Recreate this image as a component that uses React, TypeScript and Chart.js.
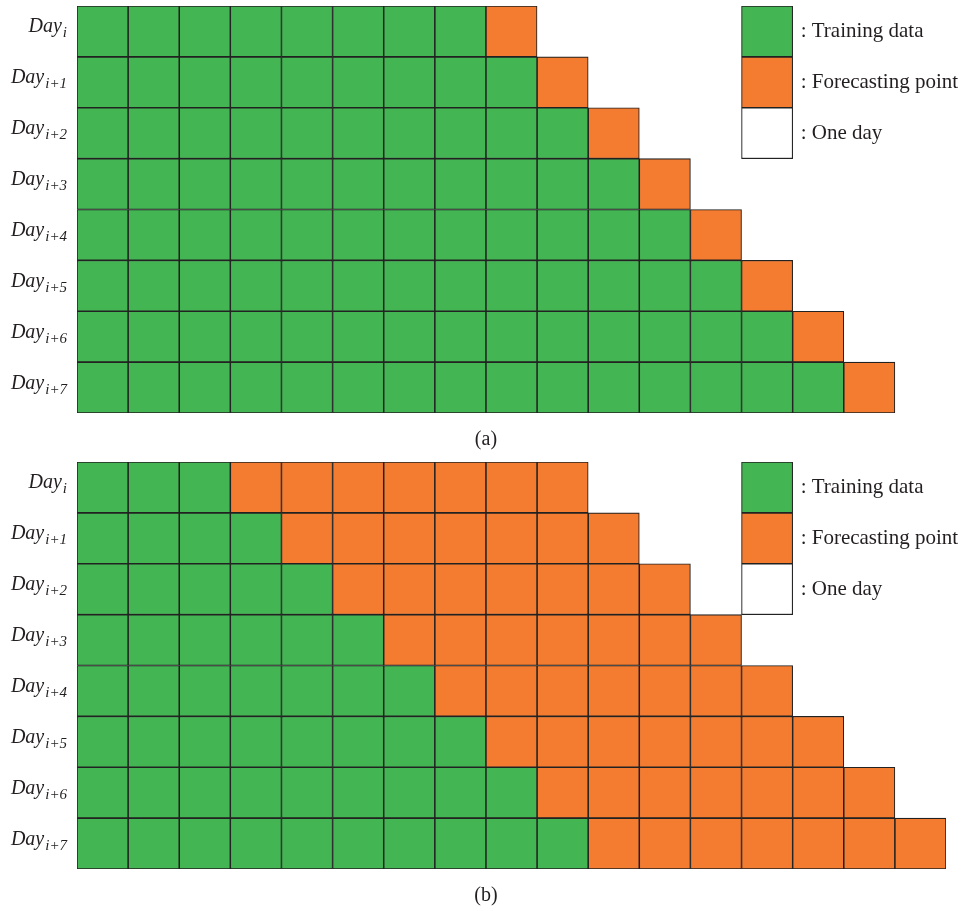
import React, { useEffect, useRef } from 'react';
import { Chart, registerables } from 'chart.js';

Chart.register(...registerables);

// ---- data ----
const rowBase = 'Day';
const rowSubscripts = ['i', 'i+1', 'i+2', 'i+3', 'i+4', 'i+5', 'i+6', 'i+7'];
const trainingDaysA = [8, 9, 10, 11, 12, 13, 14, 15];
const forecastDaysA = [1, 1, 1, 1, 1, 1, 1, 1];
const trainingDaysB = [3, 4, 5, 6, 7, 8, 9, 10];
const forecastDaysB = [7, 7, 7, 7, 7, 7, 7, 7];
const dayColumns = 17;
const legendLabels = [': Training data', ': Forecasting point', ': One day'];
const legendColumn = 13;
const captions = ['(a)', '(b)'];

// ---- styles ----
const GREEN = '#43b653';
const ORANGE = '#f47c31';
const WHITE = '#ffffff';
const BORDER = '#222222';
const TEXT = '#231f20';
const SERIF = '"Liberation Serif", "Times New Roman", serif';

function buildDatasets(train: number[], fc: number[]) {
  const ds: any[] = [];
  for (let k = 0; k < dayColumns; k++) {
    ds.push({
      label: `day ${k + 1}`,
      data: rowSubscripts.map((_, r) => (k < train[r] + fc[r] ? [k, k + 1] : null)),
      backgroundColor: rowSubscripts.map((_, r) => (k < train[r] ? GREEN : ORANGE)),
      borderColor: BORDER,
      borderWidth: 1.1,
      borderSkipped: false,
      grouped: false,
      categoryPercentage: 1,
      barPercentage: 1,
    });
  }
  const legendColors = [GREEN, ORANGE, WHITE];
  ds.push({
    label: 'legend keys',
    data: rowSubscripts.map((_, r) => (r < legendLabels.length ? [legendColumn, legendColumn + 1] : null)),
    backgroundColor: rowSubscripts.map((_, r) => legendColors[r] ?? WHITE),
    borderColor: BORDER,
    borderWidth: 1.1,
    borderSkipped: false,
    grouped: false,
    categoryPercentage: 1,
    barPercentage: 1,
  });
  return ds;
}

function makeTextPlugin(caption: string) {
  return {
    id: 'textLayer',
    afterDraw(chart: any) {
      const ctx = chart.ctx as CanvasRenderingContext2D;
      const xs = chart.scales.x;
      const ys = chart.scales.y;
      const area = chart.chartArea;
      ctx.save();
      ctx.fillStyle = TEXT;
      // row labels
      const rightEdge = xs.getPixelForValue(0) - 10;
      rowSubscripts.forEach((sub, r) => {
        const yc = ys.getPixelForValue(r);
        ctx.font = `italic 15px ${SERIF}`;
        const subW = ctx.measureText(sub).width;
        ctx.textBaseline = 'alphabetic';
        ctx.textAlign = 'left';
        ctx.fillText(sub, rightEdge - subW, yc + 6);
        ctx.font = `italic 20px ${SERIF}`;
        ctx.textAlign = 'right';
        ctx.fillText(rowBase, rightEdge - subW - 1, yc + 1);
      });
      // legend text
      ctx.font = `21px ${SERIF}`;
      ctx.textAlign = 'left';
      ctx.textBaseline = 'middle';
      legendLabels.forEach((lbl, r) => {
        const yc = ys.getPixelForValue(r);
        ctx.fillText(lbl, xs.getPixelForValue(legendColumn + 1) + 8, yc);
      });
      // caption
      ctx.font = `20px ${SERIF}`;
      ctx.textAlign = 'center';
      ctx.fillText(caption, xs.getPixelForValue(8), area.bottom + 27);
      ctx.restore();
    },
  };
}

function Panel({ train, fc, caption, height, padTop, padBottom }: any) {
  const ref = useRef<HTMLCanvasElement>(null);
  useEffect(() => {
    if (!ref.current) return;
    const chart = new Chart(ref.current, {
      type: 'bar',
      data: { labels: rowSubscripts, datasets: buildDatasets(train, fc) },
      options: {
        indexAxis: 'y',
        responsive: false,
        animation: false,
        devicePixelRatio: 1,
        layout: { padding: { left: 77, right: 19, top: padTop, bottom: padBottom } },
        plugins: { legend: { display: false }, tooltip: { enabled: false } },
        scales: {
          x: { type: 'linear', min: 0, max: dayColumns, display: false },
          y: { type: 'category', display: false, offset: true },
        },
      } as any,
      plugins: [makeTextPlugin(caption)],
    });
    return () => chart.destroy();
  }, []);
  return <canvas ref={ref} width={965} height={height} style={{ display: 'block' }} />;
}

export default function App() {
  return (
    <div style={{ position: 'absolute', left: 0, top: 0, width: 965, height: 911, background: '#fff' }}>
      <Panel train={trainingDaysA} fc={forecastDaysA} caption={captions[0]} height={456} padTop={6} padBottom={43} />
      <Panel train={trainingDaysB} fc={forecastDaysB} caption={captions[1]} height={455} padTop={6} padBottom={42} />
    </div>
  );
}
